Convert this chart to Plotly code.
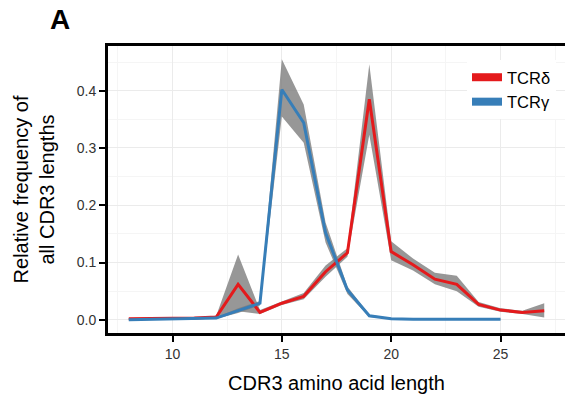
import plotly.graph_objects as go

# CDR3 length distributions
delta_len = list(range(8, 28))
delta_freq = [0.002, 0.002, 0.002, 0.003, 0.005, 0.062, 0.013, 0.029, 0.041, 0.084,
              0.117, 0.385, 0.119, 0.096, 0.071, 0.062, 0.027, 0.017, 0.013, 0.016]
delta_lo = [0.001, 0.001, 0.001, 0.002, 0.003, 0.015, 0.010, 0.026, 0.036, 0.075,
            0.110, 0.323, 0.104, 0.086, 0.062, 0.050, 0.023, 0.014, 0.010, 0.004]
delta_hi = [0.003, 0.003, 0.003, 0.004, 0.007, 0.114, 0.017, 0.032, 0.047, 0.095,
            0.125, 0.446, 0.137, 0.107, 0.082, 0.077, 0.031, 0.020, 0.016, 0.029]

gamma_len = list(range(8, 26))
gamma_freq = [0.000, 0.001, 0.001, 0.002, 0.003, 0.016, 0.029, 0.402, 0.344, 0.152,
              0.052, 0.007, 0.002, 0.001, 0.001, 0.001, 0.001, 0.001]
gamma_lo = [0.000, 0.000, 0.000, 0.001, 0.002, 0.012, 0.025, 0.355, 0.309, 0.135,
            0.045, 0.005, 0.001, 0.000, 0.000, 0.000, 0.000, 0.000]
gamma_hi = [0.001, 0.002, 0.002, 0.003, 0.004, 0.020, 0.033, 0.455, 0.376, 0.170,
            0.058, 0.009, 0.003, 0.002, 0.002, 0.002, 0.002, 0.002]

RED = "#E41A1C"
BLUE = "#377EB8"
RIBBON = "rgba(125,125,125,0.8)"
FONT = "Liberation Sans, Arial, sans-serif"

fig = go.Figure()

# grey ribbons behind the lines
for xs, lo, hi in [(delta_len, delta_lo, delta_hi), (gamma_len, gamma_lo, gamma_hi)]:
    fig.add_trace(go.Scatter(x=xs + xs[::-1], y=hi + lo[::-1], fill="toself",
                             fillcolor=RIBBON, line=dict(width=0), mode="lines",
                             showlegend=False, hoverinfo="skip"))

fig.add_trace(go.Scatter(x=delta_len, y=delta_freq, mode="lines",
                         line=dict(color=RED, width=3), showlegend=False))
fig.add_trace(go.Scatter(x=gamma_len, y=gamma_freq, mode="lines",
                         line=dict(color=BLUE, width=3), showlegend=False))

# legend keys drawn thick, like ggplot's
fig.add_trace(go.Scatter(x=[None], y=[None], mode="lines", name="TCRδ",
                         line=dict(color=RED, width=8)))
fig.add_trace(go.Scatter(x=[None], y=[None], mode="lines", name="TCRγ",
                         line=dict(color=BLUE, width=8)))

axis_common = dict(showline=True, linecolor="black", linewidth=3, mirror=True,
                   ticks="outside", ticklen=6, tickwidth=1.8, tickcolor="black",
                   showgrid=True, gridcolor="#EBEBEB", gridwidth=1,
                   zeroline=False, automargin=False,
                   tickfont=dict(family=FONT, size=14, color="#333333"))

fig.update_layout(
    width=565, height=402,
    margin=dict(l=108, r=0, t=46, b=69),
    plot_bgcolor="white", paper_bgcolor="white",
    font=dict(family=FONT, color="black"),
    xaxis=dict(range=[7.05, 27.95], tickvals=[10, 15, 20, 25],
               title=dict(text="CDR3 amino acid length", font=dict(size=20), standoff=16),
               minor=dict(tickvals=[7.5, 12.5, 17.5, 22.5, 27.5], showgrid=True,
                          gridcolor="#F5F5F5", ticks=""),
               **axis_common),
    yaxis=dict(range=[-0.023, 0.478], tickvals=[0, 0.1, 0.2, 0.3, 0.4],
               tickformat=".1f",
               title=dict(text="Relative frequency of<br>all CDR3 lengths",
                          font=dict(size=20), standoff=17),
               minor=dict(tickvals=[0.05, 0.15, 0.25, 0.35, 0.45], showgrid=True,
                          gridcolor="#F5F5F5", ticks=""),
               **axis_common),
    legend=dict(x=(467 - 108) / 457, y=1 - (60 - 46) / 287, xanchor="left", yanchor="top",
                bgcolor="white", font=dict(size=16.5), itemwidth=30,
                tracegroupgap=0),
    annotations=[dict(text="<b>A</b>", x=(60 - 108) / 457, y=1 + (46 - 19) / 287,
                      xref="paper", yref="paper", xanchor="center", yanchor="middle",
                      showarrow=False, font=dict(size=28))],
)

# drop the page's default body margin so the figure sits at the window's corner
fig.write_html("out.html", config={"displayModeBar": False},
               post_script="document.body.style.margin='0';")
